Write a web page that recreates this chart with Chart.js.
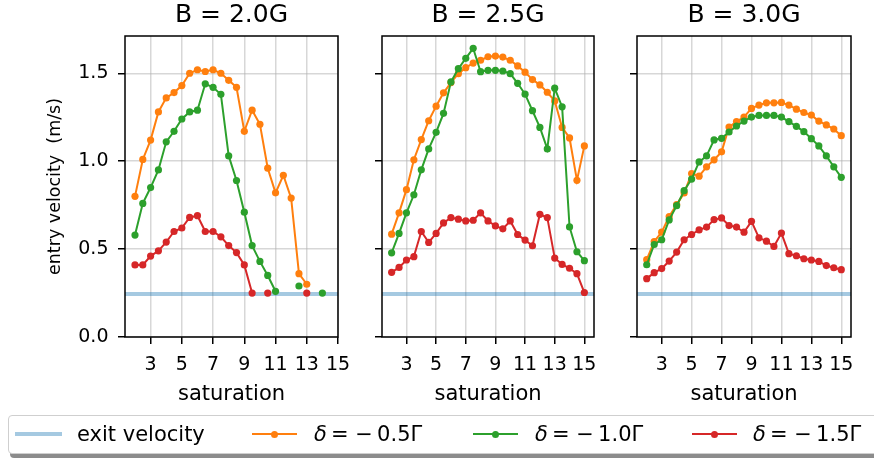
<!DOCTYPE html>
<html>
<head>
<meta charset="utf-8">
<script src="https://cdn.jsdelivr.net/npm/chart.js@4.4.1/dist/chart.umd.min.js"></script>
<style>
  html, body { margin: 0; padding: 0; background: #fff; width: 874px; height: 459px; overflow: hidden;
               font-family: 'DejaVu Sans', sans-serif; }
  canvas.panel { position: absolute; left: 0; top: 0; }
  #legend { position: absolute; left: 8px; top: 415px; width: 880px; height: 37px;
            border: 1px solid #cfcfcf; border-radius: 4px; background: #fff;
            box-shadow: 2px 4px 0 rgba(0,0,0,0.45); }
  .lbl { position: absolute; top: 0; height: 37px; line-height: 37px; font-size: 21px; color: #000; white-space: nowrap; }
  .ln { position: absolute; }
  .dot { position: absolute; width: 7px; height: 7px; border-radius: 50%; }
</style>
</head>
<body>
<canvas id="p1" class="panel" width="900" height="410"></canvas>
<canvas id="p2" class="panel" width="900" height="410"></canvas>
<canvas id="p3" class="panel" width="900" height="410"></canvas>

<div id="legend">
  <div class="ln" style="left:6px;top:16px;width:47px;height:4px;background:rgba(31,119,180,0.4)"></div>
  <div class="lbl" style="left:68px">exit velocity</div>

  <div class="ln" style="left:243px;top:17px;width:45px;height:2px;background:#ff7f0e"></div>
  <div class="dot" style="left:262px;top:14.5px;background:#ff7f0e"></div>
  <div class="lbl" style="left:305px"><i>δ</i>&thinsp;= −&thinsp;0.5Γ</div>

  <div class="ln" style="left:464px;top:17px;width:45px;height:2px;background:#2ca02c"></div>
  <div class="dot" style="left:483px;top:14.5px;background:#2ca02c"></div>
  <div class="lbl" style="left:526px"><i>δ</i>&thinsp;= −&thinsp;1.0Γ</div>

  <div class="ln" style="left:683px;top:17px;width:45px;height:2px;background:#d62728"></div>
  <div class="dot" style="left:702px;top:14.5px;background:#d62728"></div>
  <div class="lbl" style="left:744px"><i>δ</i>&thinsp;= −&thinsp;1.5Γ</div>
</div>

<script>
// saturation values sampled in every run
const saturation = [2, 2.5, 3, 3.5, 4, 4.5, 5, 5.5, 6, 6.5, 7, 7.5, 8, 8.5, 9, 9.5,
                    10, 10.5, 11, 11.5, 12, 12.5, 13, 13.5, 14, 14.5, 15];
const exitVelocity = 0.244;

const xTicks = [3, 5, 7, 9, 11, 13, 15];
const yTicks = [0, 0.5, 1.0, 1.5];

const fieldLabels = ['B = 2.0G', 'B = 2.5G', 'B = 3.0G'];
const seriesLabels = ['δ = −0.5Γ', 'δ = −1.0Γ', 'δ = −1.5Γ'];

// entry velocity (m/s), B = 2.0G
const b20_d05 = [0.80, 1.01, 1.12, 1.28, 1.36, 1.39, 1.43, 1.50, 1.52, 1.51, 1.52, 1.50, 1.46, 1.42,
                 1.17, 1.29, 1.21, 0.96, 0.82, 0.92, 0.79, 0.36, 0.30, null, null, null, null];
const b20_d10 = [0.58, 0.76, 0.85, 0.95, 1.11, 1.17, 1.24, 1.28, 1.29, 1.44, 1.42, 1.38, 1.03, 0.89,
                 0.71, 0.52, 0.43, 0.35, 0.26, null, null, 0.29, null, null, 0.25, null, null];
const b20_d15 = [0.41, 0.41, 0.46, 0.49, 0.54, 0.60, 0.62, 0.68, 0.69, 0.60, 0.60, 0.57, 0.52, 0.48,
                 0.41, 0.25, null, 0.25, null, null, null, null, 0.25, null, null, null, null];

// entry velocity (m/s), B = 2.5G
const b25_d05 = [0.585, 0.706, 0.838, 1.008, 1.123, 1.230, 1.313, 1.389, 1.447, 1.498, 1.532, 1.558, 1.574, 1.594,
                 1.598, 1.592, 1.574, 1.542, 1.506, 1.464, 1.434, 1.392, 1.343, 1.192, 1.132, 0.891, 1.087];
const b25_d10 = [0.479, 0.589, 0.706, 0.809, 0.951, 1.070, 1.164, 1.272, 1.451, 1.526, 1.585, 1.642, 1.509, 1.517,
                 1.517, 1.513, 1.498, 1.443, 1.381, 1.287, 1.192, 1.070, 1.415, 1.309, 0.626, 0.485, 0.434];
const b25_d15 = [0.368, 0.396, 0.438, 0.457, 0.600, 0.538, 0.589, 0.649, 0.679, 0.670, 0.660, 0.664, 0.706, 0.660,
                 0.632, 0.615, 0.660, 0.583, 0.551, 0.519, 0.698, 0.679, 0.449, 0.413, 0.391, 0.360, 0.253];

// entry velocity (m/s), B = 3.0G
const b30_d05 = [0.440, 0.543, 0.596, 0.685, 0.753, 0.819, 0.930, 0.915, 0.968, 1.008, 1.053, 1.194, 1.225, 1.251,
                 1.300, 1.319, 1.332, 1.332, 1.334, 1.319, 1.296, 1.277, 1.262, 1.228, 1.206, 1.183, 1.145];
const b30_d10 = [0.411, 0.526, 0.553, 0.666, 0.747, 0.832, 0.898, 0.996, 1.030, 1.121, 1.130, 1.166, 1.200, 1.228,
                 1.251, 1.260, 1.260, 1.260, 1.251, 1.225, 1.198, 1.168, 1.128, 1.087, 1.030, 0.968, 0.908];
const b30_d15 = [0.332, 0.366, 0.389, 0.432, 0.483, 0.553, 0.583, 0.609, 0.625, 0.668, 0.677, 0.634, 0.625, 0.596,
                 0.658, 0.564, 0.545, 0.515, 0.591, 0.474, 0.462, 0.445, 0.438, 0.430, 0.406, 0.394, 0.383];

const seriesColors = ['#ff7f0e', '#2ca02c', '#d62728'];
const exitColor = 'rgba(31,119,180,0.4)';

Chart.defaults.font.family = "'DejaVu Sans', sans-serif";
Chart.defaults.color = '#000';

// black box around each plotting area
const framePlugin = {
  id: 'frame',
  afterDatasetsDraw(chart) {
    const { ctx, chartArea: a } = chart;
    ctx.save();
    ctx.strokeStyle = '#000';
    ctx.lineWidth = 1.5;
    ctx.strokeRect(a.left, a.top, a.right - a.left, a.bottom - a.top);
    ctx.restore();
  }
};

const CANVAS_W = 900;
const AREA_TOP = 36, AREA_BOTTOM = 337, CANVAS_H = 410;

function drawPanel(canvasId, title, series, area, xRange, showY) {
  const yAxisWidth = showY ? 125 : 20;
  const datasets = [{
    label: 'exit velocity',
    data: [{ x: xRange[0], y: exitVelocity }, { x: xRange[1], y: exitVelocity }],
    borderColor: exitColor,
    borderWidth: 4,
    pointRadius: 0,
    order: 4
  }];
  series.forEach((vals, k) => {
    datasets.push({
      label: seriesLabels[k],
      data: saturation.map((s, i) => ({ x: s, y: vals[i] })),
      borderColor: seriesColors[k],
      backgroundColor: seriesColors[k],
      pointBackgroundColor: seriesColors[k],
      pointBorderWidth: 0,
      pointRadius: 3.6,
      borderWidth: 2,
      spanGaps: false,
      order: 3 - k
    });
  });

  new Chart(document.getElementById(canvasId), {
    type: 'line',
    data: { datasets },
    plugins: [framePlugin],
    options: {
      responsive: false,
      animation: false,
      devicePixelRatio: 1,
      layout: { padding: { left: area[0] - yAxisWidth, right: CANVAS_W - area[1], top: 0, bottom: 0 } },
      plugins: {
        legend: { display: false },
        tooltip: { enabled: false },
        title: {
          display: true, text: title, fullSize: false,
          font: { size: 25, weight: 'normal' }, color: '#000',
          padding: { top: 0, bottom: 6 }
        }
      },
      scales: {
        x: {
          type: 'linear', position: 'bottom',
          min: xRange[0], max: xRange[1],
          afterBuildTicks: s => { s.ticks = xTicks.map(v => ({ value: v })); },
          afterFit: s => { s.height = CANVAS_H - AREA_BOTTOM; },
          ticks: { font: { size: 19 }, color: '#000', padding: 10, maxRotation: 0, autoSkip: false,
                   callback: v => String(v) },
          grid: { color: 'rgba(176,176,176,0.5)', lineWidth: 1.5, tickColor: '#000', tickLength: 7, tickWidth: 1.5 },
          border: { display: false },
          title: { display: true, text: 'saturation', font: { size: 21 }, color: '#000', padding: { top: 0, bottom: 3 } }
        },
        y: {
          type: 'linear', position: 'left',
          min: 0, max: 1.712,
          afterBuildTicks: s => { s.ticks = yTicks.map(v => ({ value: v })); },
          afterFit: s => { s.width = yAxisWidth; },
          ticks: { font: { size: 19 }, color: '#000', padding: 9.5,
                   callback: v => showY ? v.toFixed(1) : '' },
          grid: { color: 'rgba(176,176,176,0.5)', lineWidth: 1.5, tickColor: '#000', tickLength: 7, tickWidth: 1.5 },
          border: { display: false },
          title: { display: showY, text: 'entry velocity  (m/s)', font: { size: 17.5 }, color: '#000',
                   padding: { top: 45, bottom: 0 } }
        }
      }
    }
  });
}

drawPanel('p1', fieldLabels[0], [b20_d05, b20_d10, b20_d15], [125, 338], [1.36, 15.0], true);
drawPanel('p2', fieldLabels[1], [b25_d05, b25_d10, b25_d15], [382, 594], [1.35, 15.65], false);
drawPanel('p3', fieldLabels[2], [b30_d05, b30_d10, b30_d15], [637, 851], [1.35, 15.65], false);
</script>
</body>
</html>
